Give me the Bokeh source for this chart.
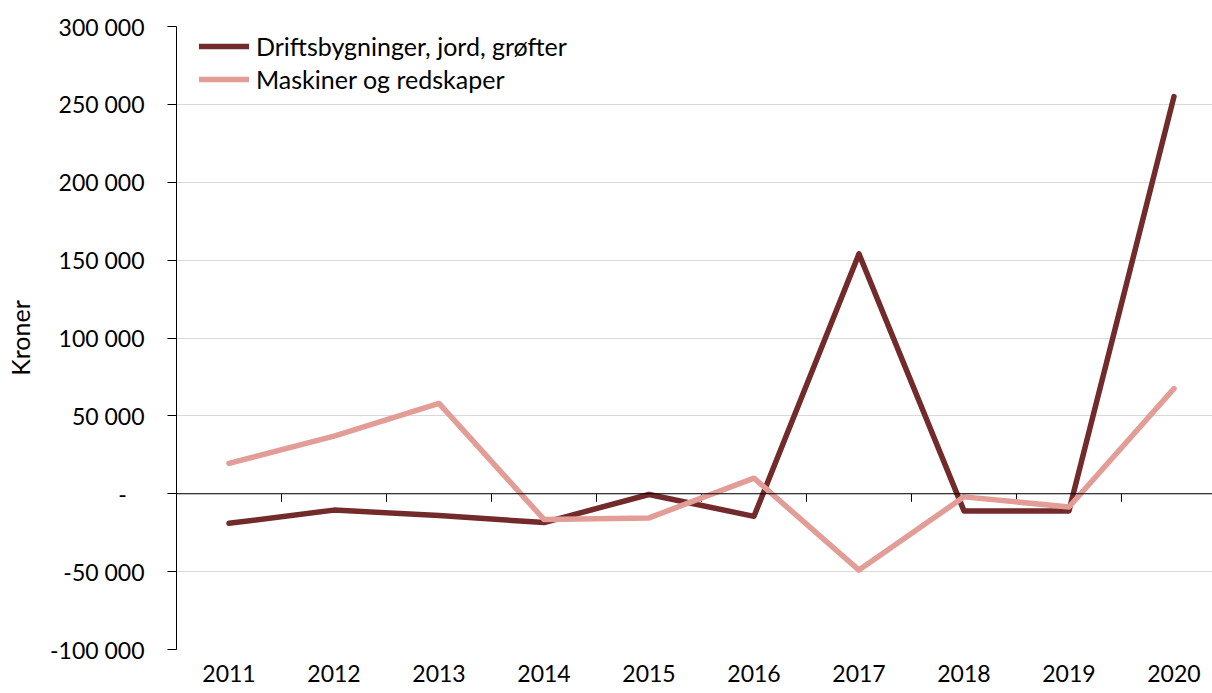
from bokeh.plotting import figure
from bokeh.models import Range1d, FixedTicker, Legend, LegendItem, ColumnDataSource, Span
from bokeh.embed import file_html
from bokeh.resources import INLINE

years = ["2011", "2012", "2013", "2014", "2015", "2016", "2017", "2018", "2019", "2020"]
drift = [-19000, -10500, -14000, -18500, -500, -14500, 154000, -11000, -11000, 255000]
maskiner = [19500, 37000, 58000, -16500, -15500, 10000, -49000, -2000, -8500, 67500]
y_ticks = [-100000, -50000, 0, 50000, 100000, 150000, 200000, 250000, 300000]
series_names = ["Driftsbygninger, jord, grøfter", "Maskiner og redskaper"]
colors = ["#722A2A", "#E29D97"]

FONT = "Lato"
FS = "23px"

W, H = 1212, 693
BL, BT, BB = 176, 26, 44
Y0, Y1 = -100000, 300000

xs = list(range(1, len(years) + 1))
src = ColumnDataSource(dict(x=xs, drift=drift, maskiner=maskiner))

p = figure(width=W, height=H, output_backend="svg", toolbar_location=None,
           x_range=Range1d(0.5, 10.367), y_range=Range1d(Y0, Y1),
           min_border_left=BL, min_border_top=BT, min_border_bottom=BB, min_border_right=0)
p.outline_line_color = None
p.background_fill_color = "white"
p.border_fill_color = "white"

# x axis: labels only at bottom
xa = p.xaxis[0]
xa.ticker = FixedTicker(ticks=xs)
xa.major_label_overrides = {x: y for x, y in zip(xs, years)}
xa.axis_line_color = None
xa.major_tick_line_color = None
xa.major_tick_out = 0
xa.major_tick_in = 0
xa.minor_tick_line_color = None
xa.major_label_standoff = 15
xa.major_label_text_font = FONT
xa.major_label_text_font_size = FS
xa.major_label_text_color = "black"

# y axis
ya = p.yaxis[0]
yt = FixedTicker(ticks=y_ticks)
ya.ticker = yt
p.ygrid.ticker = yt
ya.major_label_overrides = {t: ("-\u00a0\u00a0\u00a0" if t == 0 else f"{t:,}".replace(",", " ")) for t in y_ticks}
ya.axis_line_color = "black"
ya.major_tick_line_color = "black"
ya.major_tick_out = 9
ya.major_tick_in = 0
ya.minor_tick_line_color = None
ya.major_label_standoff = 23
ya.major_label_text_font = FONT
ya.major_label_text_font_size = FS
ya.major_label_text_color = "black"
ya.axis_label = "Kroner"
ya.axis_label_text_font = FONT
ya.axis_label_text_font_size = "25px"
ya.axis_label_text_font_style = "normal"
ya.axis_label_text_color = "black"
ya.axis_label_standoff = 12

p.xgrid.visible = False
p.ygrid.grid_line_color = "#D9D9D9"
p.ygrid.grid_line_width = 1

# zero line with category-boundary tick marks pointing down
p.add_layout(Span(location=0, dimension="width", line_color="black", line_width=1))
frame_h = H - BT - BB
tick_len = 8 * (Y1 - Y0) / frame_h
bounds = [x - 0.5 for x in xs]
p.segment(x0=bounds, y0=[0] * len(bounds), x1=bounds, y1=[-tick_len] * len(bounds),
          line_color="black", line_width=1)

r1 = p.line("x", "drift", source=src, line_color=colors[0], line_width=5.5,
            line_join="round", line_cap="round")
r2 = p.line("x", "maskiner", source=src, line_color=colors[1], line_width=5.5,
            line_join="round", line_cap="round")

legend = Legend(items=[LegendItem(label=series_names[0], renderers=[r1]),
                       LegendItem(label=series_names[1], renderers=[r2])],
                location=(23, 555), glyph_width=50, glyph_height=30, label_height=30,
                spacing=3, padding=0, margin=0, border_line_color=None,
                background_fill_alpha=0, label_standoff=7,
                label_text_font=FONT, label_text_font_size="25px", label_text_color="black")
p.add_layout(legend)

open("out.html", "w").write(file_html(p, INLINE))
